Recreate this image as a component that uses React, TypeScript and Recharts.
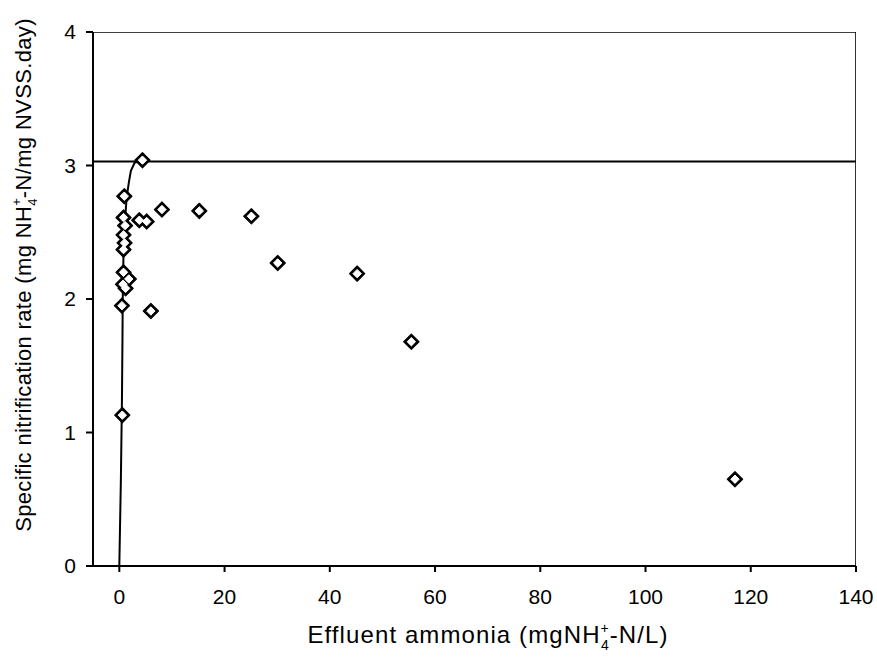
import React from 'react';
import {
  ComposedChart,
  Scatter,
  Line,
  XAxis,
  YAxis,
  ReferenceLine,
  ReferenceArea,
} from 'recharts';

// Tick labels
const xTicks = [0, 20, 40, 60, 80, 100, 120, 140];
const yTicks = [0, 1, 2, 3, 4];

// Measured points: effluent ammonia (mgNH4+-N/L) vs specific nitrification rate
const measuredAmmonia = [
  4.4, 8.1, 15.2, 25.1, 30.1, 45.2, 55.5, 117.0,
  6.0, 0.5, 0.57, 0.95,
  3.8, 5.2,
  0.8, 1.1, 0.8, 1.0, 0.8,
  0.8, 1.8, 0.7, 1.2,
];
const measuredRate = [
  3.04, 2.67, 2.66, 2.62, 2.27, 2.19, 1.68, 0.65,
  1.91, 1.95, 1.13, 2.77,
  2.59, 2.58,
  2.61, 2.55, 2.48, 2.42, 2.37,
  2.2, 2.15, 2.11, 2.08,
];

// Fitted curve
const fitAmmonia = [0, 0.3, 0.5, 0.6, 0.65, 0.8, 1.1, 1.4, 1.8, 2.2, 2.9, 4.4];
const fitRate = [0, 0.65, 1.24, 1.7, 2.0, 2.35, 2.6, 2.76, 2.87, 2.96, 3.02, 3.04];

// Maximum rate line
const maxRate = 3.03;

const measured = measuredAmmonia.map((x, i) => ({ x, y: measuredRate[i] }));
const fit = fitAmmonia.map((x, i) => ({ x, y: fitRate[i] }));

const FONT = '"Liberation Sans", Arial, sans-serif';

const diamondPath = (cx: number, cy: number, r: number) =>
  `M${cx},${cy - r} L${cx + r},${cy} L${cx},${cy + r} L${cx - r},${cy} Z`;

// Outline pass (black) and fill pass (white) so overlapping markers merge
const DiamondOutline = (props: any) => {
  const { cx, cy } = props;
  if (cx == null || cy == null) return null;
  return (
    <path d={diamondPath(cx, cy, 7.6)} fill="#000" stroke="#000" strokeWidth={1.2} strokeLinejoin="round" />
  );
};
const DiamondFill = (props: any) => {
  const { cx, cy } = props;
  if (cx == null || cy == null) return null;
  return <path d={diamondPath(cx, cy, 4.2)} fill="#fff" stroke="#fff" strokeWidth={1} strokeLinejoin="round" />;
};

const XLabel = () => (
  <text
    x={488}
    y={643}
    textAnchor="middle"
    fontFamily={FONT}
    fontSize={24}
    letterSpacing={1.1}
    fill="#000"
  >
    Effluent ammonia (mgNH
    <tspan dy={-10} fontSize={14}>+</tspan>
    <tspan dx={-9} dy={17} fontSize={14}>4</tspan>
    <tspan dy={-7}>-N/L)</tspan>
  </text>
);

const YLabel = () => (
  <text
    x={31}
    y={275}
    transform="rotate(-90, 31, 275)"
    textAnchor="middle"
    fontFamily={FONT}
    fontSize={22}
    letterSpacing={0.35}
    fill="#000"
  >
    Specific nitrification rate (mg NH
    <tspan dy={-10} fontSize={13}>+</tspan>
    <tspan dx={-8} dy={16} fontSize={13}>4</tspan>
    <tspan dy={-6}>-N/mg NVSS.day)</tspan>
  </text>
);

export default function App() {
  return (
    <div style={{ position: 'absolute', left: 0, top: 0, background: '#fff' }}>
      <ComposedChart
        width={877}
        height={661}
        margin={{ top: 32, right: 21, left: 33, bottom: 35 }}
        style={{ background: '#fff' }}
      >
        <XAxis
          type="number"
          dataKey="x"
          domain={[-5, 140]}
          ticks={xTicks}
          allowDataOverflow
          height={60}
          stroke="#000"
          strokeWidth={2}
          tickSize={6}
          tickMargin={17}
          tick={{ fill: '#000', fontSize: 21, fontFamily: FONT }}
          label={<XLabel />}
        />
        <YAxis
          type="number"
          dataKey="y"
          domain={[0, 4]}
          ticks={yTicks}
          allowDataOverflow
          width={60}
          stroke="#000"
          strokeWidth={2}
          tickSize={7}
          tickMargin={10}
          tick={{ fill: '#000', fontSize: 21, fontFamily: FONT }}
          label={<YLabel />}
        />
        <ReferenceArea
          x1={-5}
          x2={140}
          y1={0}
          y2={4}
          fill="none"
          fillOpacity={0}
          stroke="#000"
          strokeWidth={1.6}
          ifOverflow="hidden"
        />
        <ReferenceLine y={maxRate} stroke="#000" strokeWidth={2} />
        <Line
          data={fit}
          dataKey="y"
          type="linear"
          stroke="#000"
          strokeWidth={2}
          dot={false}
          isAnimationActive={false}
          legendType="none"
        />
        <Scatter
          data={measured}
          dataKey="y"
          shape={<DiamondOutline />}
          isAnimationActive={false}
          legendType="none"
        />
        <Scatter
          data={measured}
          dataKey="y"
          shape={<DiamondFill />}
          isAnimationActive={false}
          legendType="none"
        />
      </ComposedChart>
    </div>
  );
}
